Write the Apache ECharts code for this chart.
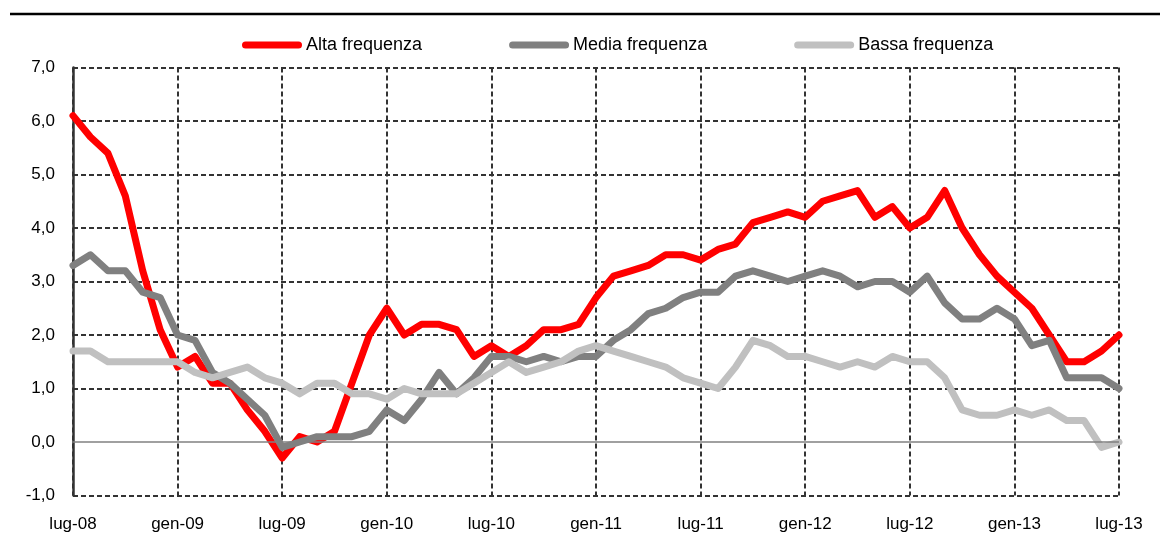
<!DOCTYPE html>
<html>
<head>
<meta charset="utf-8">
<script src="https://cdn.jsdelivr.net/npm/echarts@6/dist/echarts.min.js"></script>
<style>
html,body{margin:0;padding:0;background:#fff;}
#chart{width:1160px;height:556px;}
</style>
</head>
<body>
<div id="chart"></div>
<script>
const categories = [
 'lug-08','ago-08','set-08','ott-08','nov-08','dic-08',
 'gen-09','feb-09','mar-09','apr-09','mag-09','giu-09',
 'lug-09','ago-09','set-09','ott-09','nov-09','dic-09',
 'gen-10','feb-10','mar-10','apr-10','mag-10','giu-10',
 'lug-10','ago-10','set-10','ott-10','nov-10','dic-10',
 'gen-11','feb-11','mar-11','apr-11','mag-11','giu-11',
 'lug-11','ago-11','set-11','ott-11','nov-11','dic-11',
 'gen-12','feb-12','mar-12','apr-12','mag-12','giu-12',
 'lug-12','ago-12','set-12','ott-12','nov-12','dic-12',
 'gen-13','feb-13','mar-13','apr-13','mag-13','giu-13',
 'lug-13'
];
const seriesNames = ['Alta frequenza','Media frequenza','Bassa frequenza'];
const alta = [6.1,5.7,5.4,4.6,3.2,2.1,1.4,1.6,1.1,1.1,0.6,0.2,
 -0.3,0.1,0.0,0.2,1.1,2.0,2.5,2.0,2.2,2.2,2.1,1.6,
 1.8,1.6,1.8,2.1,2.1,2.2,2.7,3.1,3.2,3.3,3.5,3.5,
 3.4,3.6,3.7,4.1,4.2,4.3,4.2,4.5,4.6,4.7,4.2,4.4,
 4.0,4.2,4.7,4.0,3.5,3.1,2.8,2.5,2.0,1.5,1.5,1.7,2.0];
const media = [3.3,3.5,3.2,3.2,2.8,2.7,2.0,1.9,1.3,1.1,0.8,0.5,
 -0.1,0.0,0.1,0.1,0.1,0.2,0.6,0.4,0.8,1.3,0.9,1.2,
 1.6,1.6,1.5,1.6,1.5,1.6,1.6,1.9,2.1,2.4,2.5,2.7,
 2.8,2.8,3.1,3.2,3.1,3.0,3.1,3.2,3.1,2.9,3.0,3.0,
 2.8,3.1,2.6,2.3,2.3,2.5,2.3,1.8,1.9,1.2,1.2,1.2,1.0];
const bassa = [1.7,1.7,1.5,1.5,1.5,1.5,1.5,1.3,1.2,1.3,1.4,1.2,
 1.1,0.9,1.1,1.1,0.9,0.9,0.8,1.0,0.9,0.9,0.9,1.1,
 1.3,1.5,1.3,1.4,1.5,1.7,1.8,1.7,1.6,1.5,1.4,1.2,
 1.1,1.0,1.4,1.9,1.8,1.6,1.6,1.5,1.4,1.5,1.4,1.6,
 1.5,1.5,1.2,0.6,0.5,0.5,0.6,0.5,0.6,0.4,0.4,-0.1,0.0];
const colors = ['#FF0000','#808080','#C0C0C0'];
const yMin = -1, yMax = 7, yStep = 1;

const FONT = "'Liberation Sans', Arial, sans-serif";
const chart = echarts.init(document.getElementById('chart'), null, {renderer:'canvas'});
const capsule = 'path://M3.5,0 L56.5,0 A3.5,3.5 0 0 1 56.5,7 L3.5,7 A3.5,3.5 0 0 1 3.5,0 Z';
const gridDash = {color:'#333', width:2, type:[5,3]};
// horizontal split lines: hide the dashed one at 0 (solid zero line drawn instead)
const yTicks = [];
for (let v = yMin; v <= yMax; v += yStep) yTicks.push(v);
const ySplitColors = yTicks.map(v => v === 0 ? 'rgba(0,0,0,0)' : '#333');

function mk(name, data, color, extra){
  return Object.assign({
    name: name, type:'line', data: data, symbol:'none', smooth:false,
    lineStyle:{color:color, width:7, cap:'round', join:'round'},
    itemStyle:{color:color},
    animation:false
  }, extra||{});
}

chart.setOption({
  animation:false,
  grid:{left:73, right:41, top:67.5, bottom:60.5, containLabel:false},
  legend:{
    left:237, top:31, itemWidth:60, itemHeight:7, itemGap:87,
    icon: capsule,
    textStyle:{fontFamily:FONT, fontSize:18, color:'#000', padding:[0,0,0,-1]},
    data: seriesNames.map((n,i)=>({name:n, itemStyle:{color:colors[i]}}))
  },
  graphic:[{type:'line', shape:{x1:10,y1:14,x2:1160,y2:14}, style:{stroke:'#000', lineWidth:2.5}, silent:true}],
  xAxis:{
    type:'category', data:categories, boundaryGap:false,
    axisLine:{show:false}, axisTick:{show:false},
    axisLabel:{interval:5, fontFamily:FONT, fontSize:17, color:'#000', margin:20, showMaxLabel:true},
    splitLine:{show:true, interval:5, lineStyle:gridDash}
  },
  yAxis:{
    type:'value', min:yMin, max:yMax, interval:yStep,
    axisLine:{show:true, lineStyle:{color:'#333', width:2.5}},
    axisTick:{show:false},
    axisLabel:{fontFamily:FONT, fontSize:17, color:'#000', margin:18,
      formatter:v=>v.toFixed(1).replace('.',',')},
    splitLine:{show:true, lineStyle:{color:ySplitColors, width:2, type:[5,3]}}
  },
  series:[
    mk(seriesNames[0], alta, colors[0], {markLine:{silent:true, symbol:'none', label:{show:false},
      lineStyle:{color:'#808080', width:1.5, type:'solid'}, data:[{yAxis:0}]}}),
    mk(seriesNames[1], media, colors[1]),
    mk(seriesNames[2], bassa, colors[2])
  ]
});
</script>
</body>
</html>
